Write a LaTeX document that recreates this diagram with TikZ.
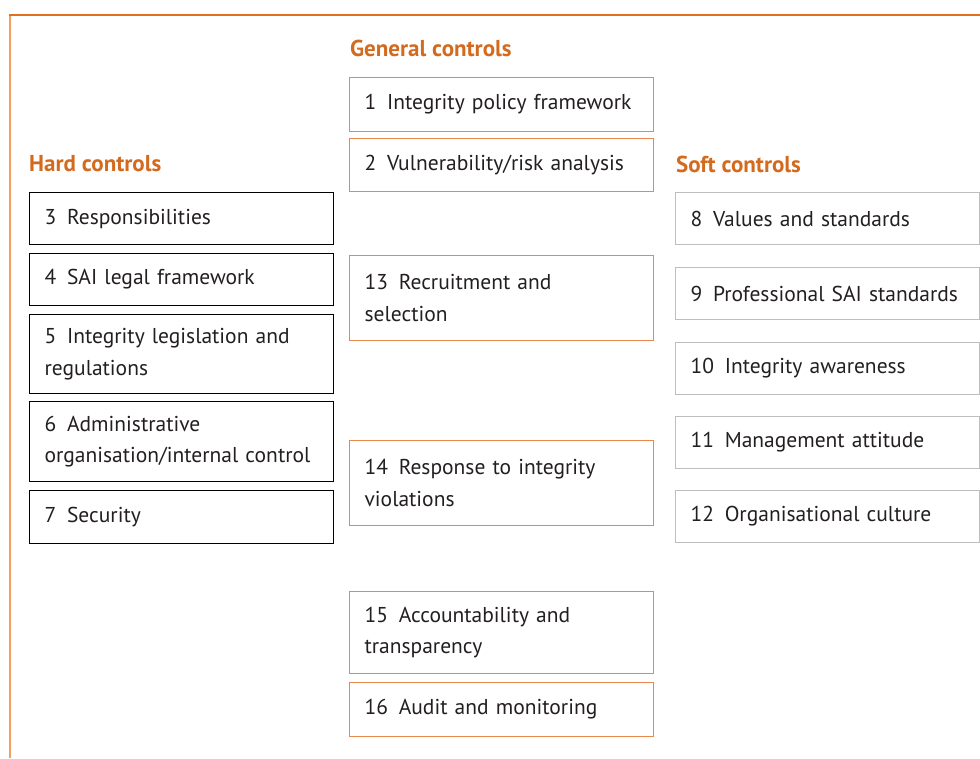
\documentclass[tikz,border=0pt]{standalone}
\usepackage{fontspec}
\setmainfont{PT Sans}
\usetikzlibrary{positioning}
\definecolor{ctitle}{RGB}{212,106,30}
\definecolor{cframe}{RGB}{224,112,32}
\definecolor{cframeside}{RGB}{240,160,96}
\definecolor{cgeneral}{RGB}{232,136,74}
\definecolor{csoft}{RGB}{190,190,190}
\definecolor{ctext}{RGB}{35,31,32}

\tikzset{
  heading/.style={anchor=west, inner sep=0pt, text=ctitle, font=\fontsize{23}{26}\selectfont\bfseries},
  ctrlbox/.style={anchor=north west, inner xsep=15pt, inner ysep=0pt, line width=1.2pt,
    text=ctext, align=left, minimum width=304pt, text width=274pt,
    font=\fontsize{21.5}{31.5}\selectfont},
  hardbox/.style={ctrlbox, draw=black},
  genbox/.style={ctrlbox, draw=cgeneral},
  softbox/.style={ctrlbox, draw=csoft},
}
\newcommand{\itemno}[1]{#1\hspace{0.5em}}

\begin{document}
\begin{tikzpicture}[x=1pt, y=-1pt]
  \useasboundingbox (0,0) rectangle (980,758);
  % Frame
  \draw[cframeside, line width=2.5pt] (10,15) -- (10,758);
  \draw[cframe, line width=2pt] (9,15) -- (980,15);
  % Headings
  \node[heading] (hgen) at (350,48) {General controls};
  \node[heading] (hhard) at (29,164) {Hard controls};
  \node[heading] (hsoft) at (676,164) {Soft controls};
  % General controls
  \node[genbox, minimum height=54pt] (gen1) at (349,77) {\itemno{1}Integrity policy framework};
  \node[genbox, minimum height=53pt] (gen2) at (349,138) {\itemno{2}Vulnerability/risk analysis};
  \node[genbox, minimum height=85pt] (gen13) at (349,255) {\itemno{13}Recruitment and\\selection};
  \node[genbox, minimum height=85pt] (gen14) at (349,440) {\itemno{14}Response to integrity\\violations};
  \node[genbox, minimum height=82pt] (gen15) at (349,591) {\itemno{15}Accountability and\\transparency};
  \node[genbox, minimum height=54pt] (gen16) at (349,682) {\itemno{16}Audit and monitoring};
  % Hard controls
  \node[hardbox, minimum height=52pt] (hard3) at (29,192) {\itemno{3}Responsibilities};
  \node[hardbox, minimum height=52pt] (hard4) at (29,253) {\itemno{4}SAI legal framework};
  \node[hardbox, minimum height=79pt] (hard5) at (29,314) {\itemno{5}Integrity legislation and\\regulations};
  \node[hardbox, minimum height=80pt] (hard6) at (29,401) {\itemno{6}Administrative\\organisation/internal control};
  \node[hardbox, minimum height=53pt] (hard7) at (29,490) {\itemno{7}Security};
  % Soft controls
  \foreach \n/\y/\t in {8/192/Values and standards, 9/267/Professional SAI standards,
      10/342/Integrity awareness, 11/416/Management attitude, 12/490/Organisational culture} {
    \node[softbox, minimum height=52pt] (soft\n) at (675,\y) {\itemno{\n}\t};
  }
\end{tikzpicture}
\end{document}
